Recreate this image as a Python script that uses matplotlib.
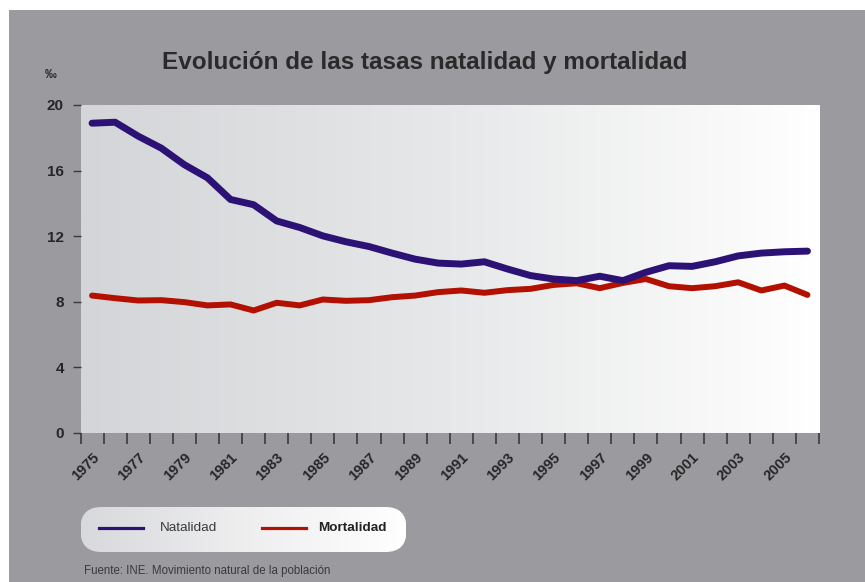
import numpy as np
import matplotlib
matplotlib.use("Agg")
import matplotlib.pyplot as plt
from matplotlib.patches import FancyBboxPatch, Rectangle
from matplotlib.colors import LinearSegmentedColormap

plt.rcParams['font.family'] = ['Liberation Sans', 'DejaVu Sans']

# data (tasas por mil habitantes)
years = list(range(1975, 2007))
natalidad = [18.89, 18.95, 18.10, 17.37, 16.36, 15.56, 14.24, 13.92, 12.93, 12.53,
             12.02, 11.66, 11.37, 10.97, 10.60, 10.36, 10.30, 10.44, 10.00, 9.60,
             9.39, 9.29, 9.56, 9.29, 9.80, 10.20, 10.16, 10.44, 10.80, 10.97,
             11.05, 11.09]
mortalidad = [8.38, 8.22, 8.08, 8.10, 7.98, 7.78, 7.84, 7.47, 7.94, 7.78,
              8.14, 8.06, 8.10, 8.28, 8.38, 8.59, 8.69, 8.55, 8.71, 8.79,
              9.03, 9.13, 8.83, 9.15, 9.39, 8.95, 8.83, 8.95, 9.19, 8.69,
              8.99, 8.42]
y_ticks = [0, 4, 8, 12, 16, 20]

title = "Evolución de las tasas natalidad y mortalidad"
source = "Fuente: INE. Movimiento natural de la población"

BG = '#9b9a9f'
TXT = '#262626'
BLUE = '#2c1275'
RED = '#b21000'

W, H = 865, 582
fig = plt.figure(figsize=(W / 100, H / 100), dpi=100)
fig.patch.set_facecolor('white')
fig.add_artist(Rectangle((9 / W, 0), 1, 1 - 10 / H, transform=fig.transFigure,
                         facecolor=BG, edgecolor='none', zorder=-10))

# main plot area
left, right, top, bottom = 80.5, 819, 105, 433
ax = fig.add_axes([left / W, (H - bottom) / H, (right - left) / W, (bottom - top) / H])
ax.set_facecolor('white')
grad = np.linspace(0, 1, 256).reshape(1, -1)
cmap = LinearSegmentedColormap.from_list('bg', ['#d4d5d8', '#e7e8e9', '#ffffff'])
ax.imshow(grad, cmap=cmap, aspect='auto', extent=[0, 1, 0, 1],
          transform=ax.transAxes, zorder=0)

x = np.arange(len(years))
ax.plot(x, natalidad, color=BLUE, lw=5, solid_capstyle='round',
        solid_joinstyle='round', zorder=3)
ax.plot(x, mortalidad, color=RED, lw=4.3, solid_capstyle='round',
        solid_joinstyle='round', zorder=2)

ax.set_xlim(-0.5, len(years) - 0.5)
ax.set_ylim(0, 20)
for s in ax.spines.values():
    s.set_visible(False)

ax.set_yticks(y_ticks)
ax.set_yticklabels([str(v) for v in y_ticks], fontsize=11, fontweight='bold', color=TXT)
ax.tick_params(axis='y', length=6, width=1, color='#3a3a3a', pad=6)

# category axis: tick marks between years, labels every other year
ax.set_xticks(np.arange(-0.5, len(years)), minor=False)
ax.set_xticklabels([])
ax.tick_params(axis='x', which='major', length=8, width=1.2, color='#3a3a3a')
lab_pos = x[::2]
ax.set_xticks(lab_pos, minor=True)
ax.set_xticklabels([str(years[i]) for i in lab_pos], minor=True, rotation=45,
                   ha='right', va='top', rotation_mode='anchor',
                   fontsize=10.5, fontweight='bold', color=TXT)
ax.tick_params(axis='x', which='minor', length=0, pad=12.5)

# title and unit
fig.text(425 / W, 1 - 62 / H, title, ha='center', va='center',
         fontsize=17.5, fontweight='bold', color='#2a2a2a')
fig.text(51 / W, 1 - 75 / H, '‰', ha='center', va='center',
         fontsize=8.5, fontweight='bold', color=TXT)

# legend pill
lx0, lx1, ly0, ly1 = 80.5, 406.5, 507, 552
lax = fig.add_axes([lx0 / W, (H - ly1) / H, (lx1 - lx0) / W, (ly1 - ly0) / H])
lw_, lh_ = lx1 - lx0, ly1 - ly0
lax.set_xlim(0, lw_)
lax.set_ylim(0, lh_)
lax.axis('off')
pill = FancyBboxPatch((0, 0), lw_, lh_, boxstyle='round,pad=0,rounding_size=21',
                      facecolor='none', edgecolor='none', transform=lax.transData)
lax.add_patch(pill)
lcmap = LinearSegmentedColormap.from_list('lg', ['#d8d9dc', '#eeeeef', '#ffffff'])
im = lax.imshow(grad, cmap=lcmap, aspect='auto', extent=[0, lw_, 0, lh_], zorder=0)
im.set_clip_path(pill)
cy = ly1 - 528
lax.plot([99 - lx0, 143 - lx0], [cy, cy], color=BLUE, lw=2.3, zorder=2)
lax.text(160 - lx0, cy, 'Natalidad', ha='left', va='center', fontsize=9.7,
         color='#3a3a3a')
lax.plot([262 - lx0, 306 - lx0], [cy, cy], color=RED, lw=2.3, zorder=2)
lax.text(318 - lx0, cy, 'Mortalidad', ha='left', va='center', fontsize=9.7,
         fontweight='bold', color='#222222')

fig.text(84 / W, 1 - 571 / H, source, ha='left', va='center', fontsize=8.3,
         color='#3a3a3a')

fig.savefig('out.png', dpi=100, facecolor=fig.get_facecolor())
